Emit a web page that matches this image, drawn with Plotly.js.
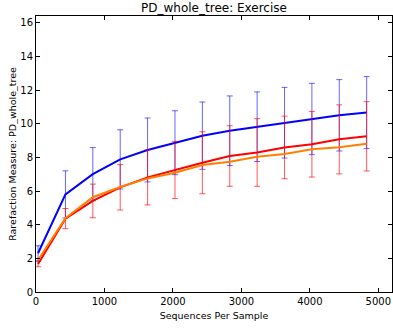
<!DOCTYPE html>
<html>
<head>
<meta charset="utf-8">
<script src="https://cdn.plot.ly/plotly-3.0.1.min.js"></script>
<style>html,body{margin:0;padding:0;background:#fff;}#chart{width:393px;height:331px;}</style>
</head>
<body>
<div id="chart"></div>
<script>
const seqs = [30, 430, 830, 1230, 1630, 2030, 2430, 2830, 3230, 3630, 4030, 4430, 4830];
const blueMean = [2.3, 5.8, 7.0, 7.88, 8.44, 8.87, 9.29, 9.58, 9.82, 10.06, 10.28, 10.5, 10.66];
const blueErr = [0.45, 1.4, 1.58, 1.76, 1.9, 1.9, 2.0, 2.07, 2.07, 2.1, 2.12, 2.12, 2.14];
const redMean = [1.66, 4.36, 5.41, 6.22, 6.81, 7.25, 7.68, 8.08, 8.29, 8.59, 8.78, 9.07, 9.25];
const redErr = [0.16, 0.6, 1.0, 1.35, 1.64, 1.7, 1.84, 1.8, 2.01, 1.86, 1.95, 2.05, 2.06];
const orangeMean = [1.9, 4.38, 5.63, 6.24, 6.75, 7.09, 7.55, 7.74, 8.04, 8.2, 8.48, 8.6, 8.81];
const xTicks = [0, 1000, 2000, 3000, 4000, 5000];
const yTicks = [0, 2, 4, 6, 8, 10, 12, 14, 16];

const font = 'DejaVu Sans, sans-serif';
const traces = [
  {x: seqs, y: blueMean, type: 'scatter', mode: 'lines',
   line: {color: '#0000ff', width: 2},
   error_y: {type: 'data', array: blueErr, visible: true, color: 'rgba(0,0,255,0.6)', thickness: 1, width: 3}},
  {x: seqs, y: redMean, type: 'scatter', mode: 'lines',
   line: {color: '#ff0000', width: 2},
   error_y: {type: 'data', array: redErr, visible: true, color: 'rgba(255,0,0,0.65)', thickness: 1, width: 3}},
  {x: seqs, y: orangeMean, type: 'scatter', mode: 'lines',
   line: {color: '#ff7f00', width: 2}}
];
const axisCommon = {
  showline: true, linecolor: '#000', linewidth: 1, mirror: 'ticks',
  ticks: 'inside', ticklen: 4, tickcolor: '#000', tickwidth: 1,
  showgrid: false, zeroline: false,
  tickfont: {family: font, size: 10, color: '#000'}
};
const layout = {
  width: 393, height: 331,
  margin: {l: 36, r: 1, t: 16, b: 39},
  paper_bgcolor: '#fff', plot_bgcolor: '#fff',
  showlegend: false,
  title: {text: 'PD_whole_tree: Exercise', font: {family: font, size: 12, color: '#000'},
          x: 0.5, xref: 'paper', y: 1 - 8/331, yref: 'container', yanchor: 'middle'},
  xaxis: Object.assign({}, axisCommon, {range: [0, 5200], tickvals: xTicks,
    title: {text: 'Sequences Per Sample', font: {family: font, size: 9.5, color: '#000'}, standoff: 6}}),
  yaxis: Object.assign({}, axisCommon, {range: [0, 16.4], tickvals: yTicks,
    title: {text: 'Rarefaction Measure: PD_whole_tree', font: {family: font, size: 9.5, color: '#000'}, standoff: 1}})
};
Plotly.newPlot('chart', traces, layout, {displayModeBar: false, staticPlot: true});
</script>
</body>
</html>
